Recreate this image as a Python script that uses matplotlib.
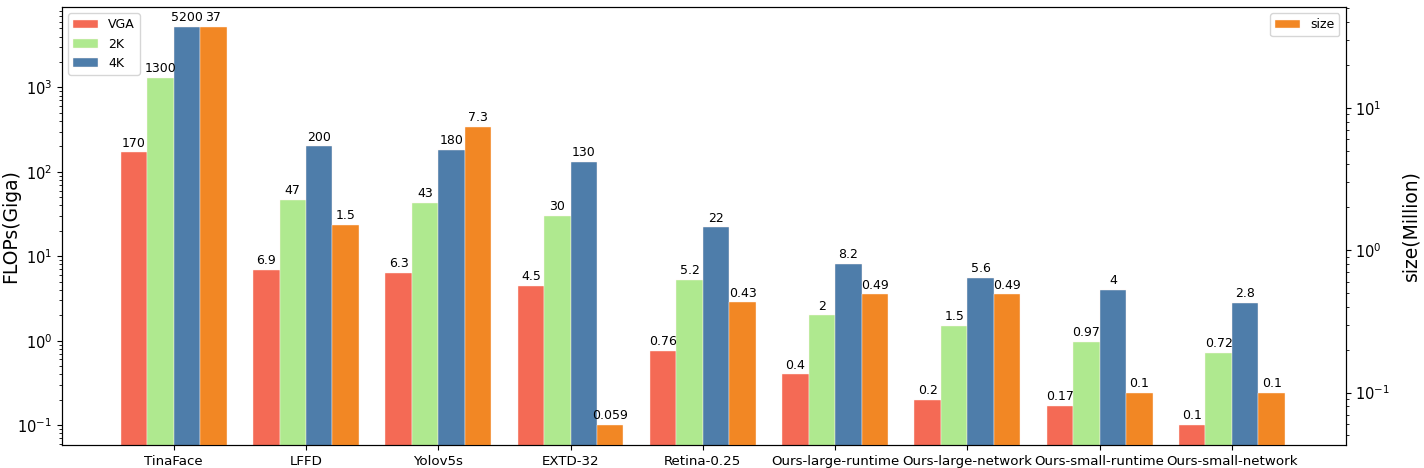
import matplotlib
matplotlib.use("Agg")
import matplotlib.pyplot as plt
from matplotlib import font_manager as fm
import numpy as np

categories = ["TinaFace", "LFFD", "Yolov5s", "EXTD-32", "Retina-0.25",
              "Ours-large-runtime", "Ours-large-network", "Ours-small-runtime", "Ours-small-network"]
flops_vga = [170, 6.9, 6.3, 4.5, 0.76, 0.4, 0.2, 0.17, 0.1]
flops_2k = [1300, 47, 43, 30, 5.2, 2, 1.5, 0.97, 0.72]
flops_4k = [5200, 200, 180, 130, 22, 8.2, 5.6, 4, 2.8]
size_m = [37, 1.5, 7.3, 0.059, 0.43, 0.49, 0.49, 0.1, 0.1]

c_vga = "#F46A55"
c_2k = "#AFE98F"
c_4k = "#4E7DAA"
c_size = "#F28724"

names = {f.name for f in fm.fontManager.ttflist}
narrow = "Liberation Sans Narrow" in names

fig = plt.figure(figsize=(14.24, 4.68), dpi=100)
ax = fig.add_axes([0.0435, 0.049, 0.9015, 0.936])
ax2 = ax.twinx()

x = np.arange(len(categories))
w = 0.2
kw = dict(width=w, align="edge", edgecolor="#fff5ee", linewidth=0.3)
b1 = ax.bar(x - 2 * w, flops_vga, color=c_vga, label="VGA", **kw)
b2 = ax.bar(x - w, flops_2k, color=c_2k, label="2K", **kw)
b3 = ax.bar(x, flops_4k, color=c_4k, label="4K", **kw)
b4 = ax2.bar(x + w, size_m, color=c_size, label="size", **kw)

ax.set_yscale("log")
ax2.set_yscale("log")

def log_lims(vals, m=0.05):
    lo, hi = np.log10(min(vals)), np.log10(max(vals))
    r = hi - lo
    return 10 ** (lo - m * r), 10 ** (hi + m * r)

ax.set_ylim(*log_lims(flops_vga + flops_2k + flops_4k))
ax2.set_ylim(*log_lims(size_m))
ax.set_xlim(-0.845, len(categories) - 1 + 0.86)

def label(a, bars, vals):
    for b, v in zip(bars, vals):
        a.annotate(f"{v:g}", (b.get_x() + b.get_width() / 2, b.get_height()),
                   xytext=(0, 2), textcoords="offset points",
                   ha="center", va="bottom", fontsize=9)

label(ax, b1, flops_vga)
label(ax, b2, flops_2k)
label(ax, b3, flops_4k)
label(ax2, b4, size_m)

ax.set_xticks(x)
if narrow:
    ax.set_xticklabels(categories, fontsize=10.2, family="Liberation Sans Narrow")
else:
    ax.set_xticklabels(categories, fontsize=9.6)
ax.tick_params(axis="y", labelsize=10.5)
ax2.tick_params(axis="y", labelsize=10.5)
ax.set_ylabel("FLOPs(Giga)", fontsize=13.5)
ax2.set_ylabel("size(Million)", fontsize=13.5)
ax.yaxis.set_label_coords(-0.0327, 0.5)
ax2.yaxis.set_label_coords(1.0436, 0.5)

ax.legend(loc="upper left", fontsize=9)
ax2.legend(loc="upper right", fontsize=9)

fig.savefig("out.png", dpi=100)
